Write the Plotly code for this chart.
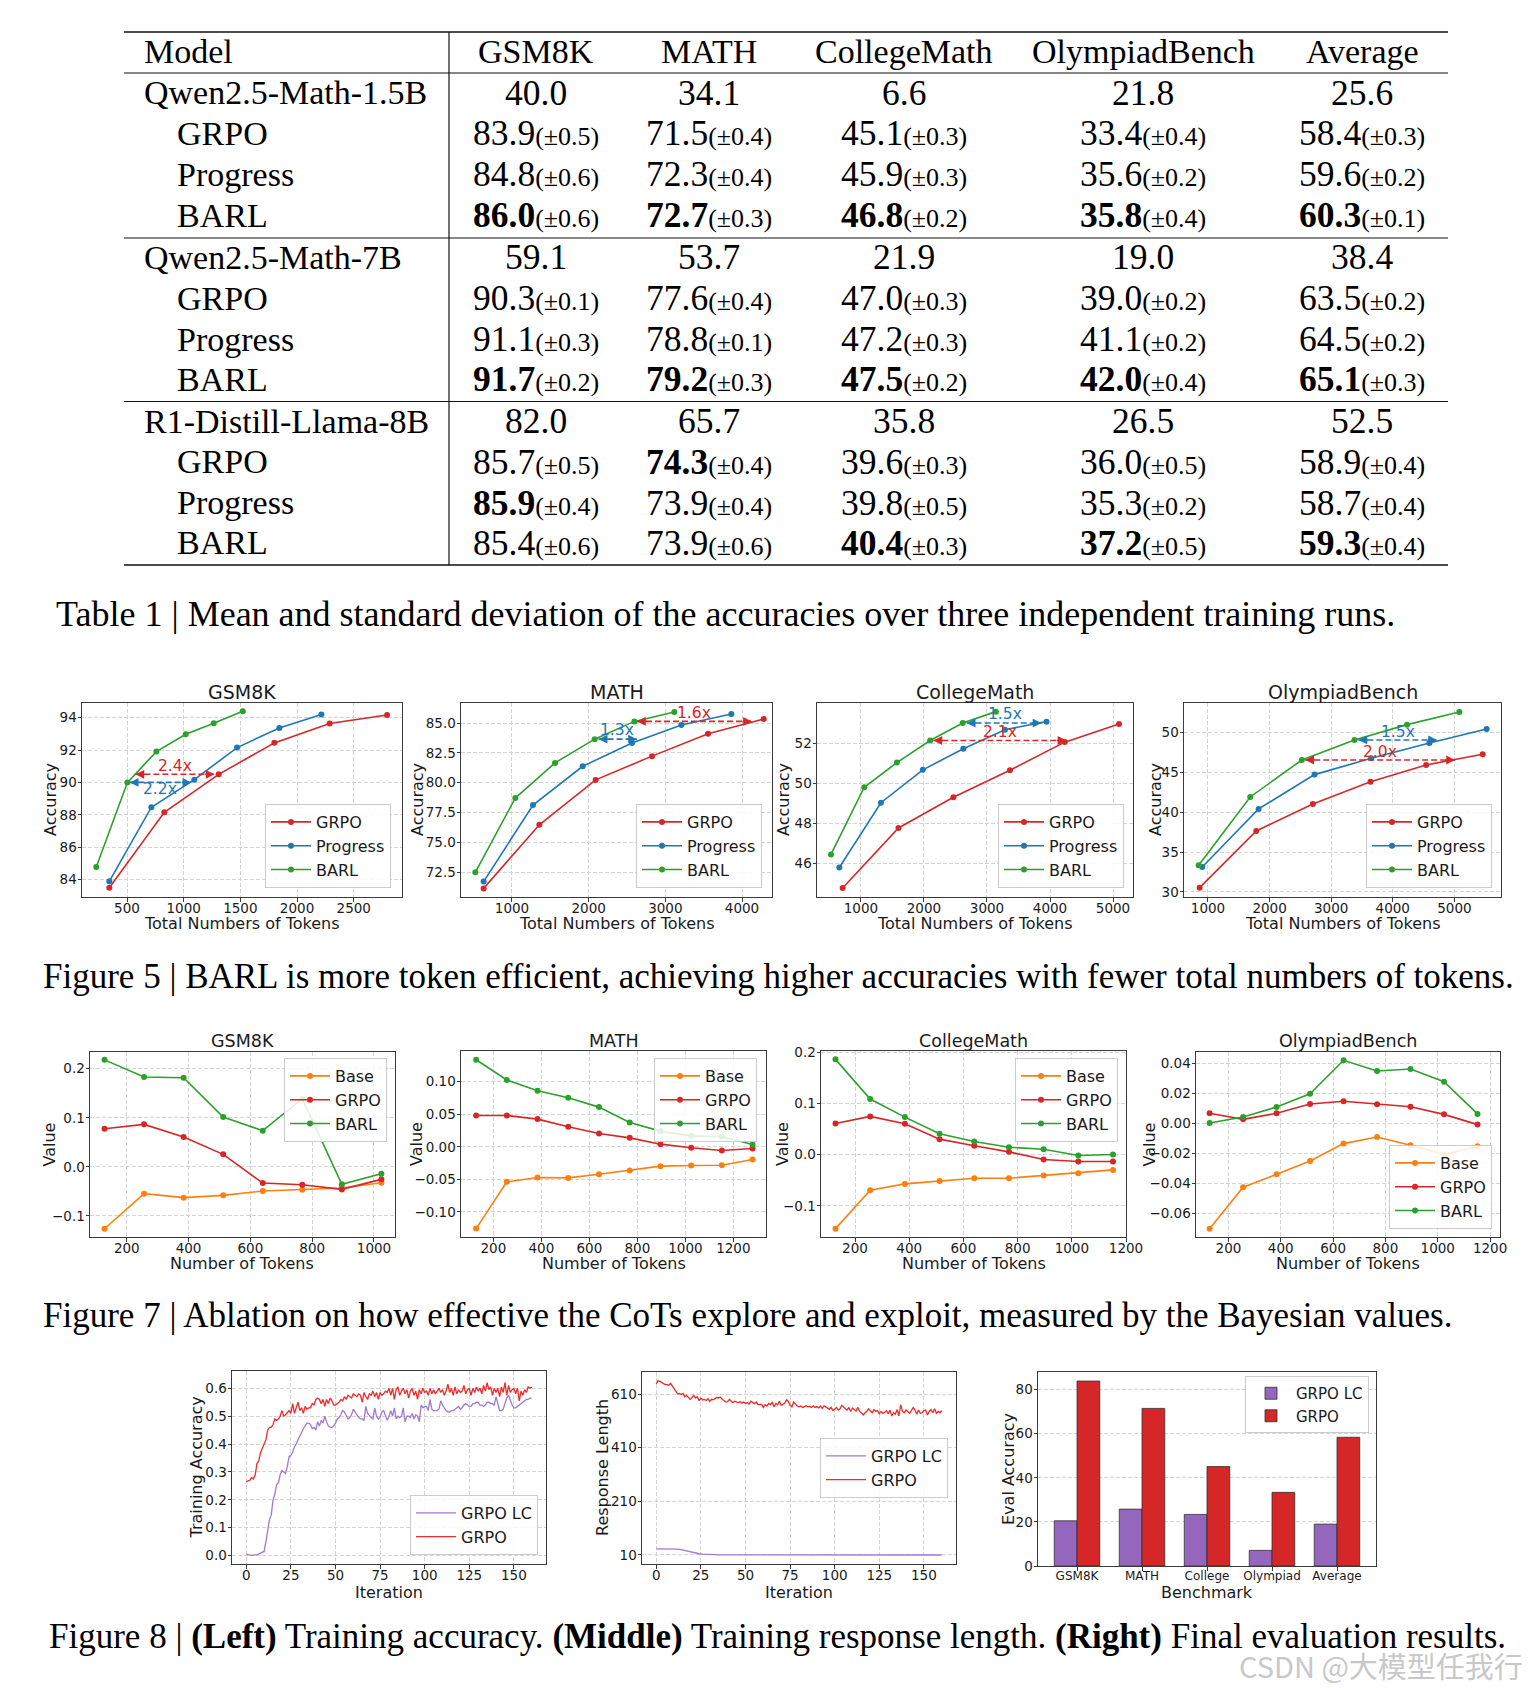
import plotly.graph_objects as go

W, H = 1533, 1688

# ===================== DATA =====================
# ---- Table 1 ----
benchmarks = ["GSM8K", "MATH", "CollegeMath", "OlympiadBench", "Average"]
base_models = ["Qwen2.5-Math-1.5B", "Qwen2.5-Math-7B", "R1-Distill-Llama-8B"]
methods = ["GRPO", "Progress", "BARL"]
base_scores = [
    [40.0, 34.1, 6.6, 21.8, 25.6],
    [59.1, 53.7, 21.9, 19.0, 38.4],
    [82.0, 65.7, 35.8, 26.5, 52.5],
]
qwen15_mean = [[83.9, 71.5, 45.1, 33.4, 58.4], [84.8, 72.3, 45.9, 35.6, 59.6], [86.0, 72.7, 46.8, 35.8, 60.3]]
qwen15_std = [[0.5, 0.4, 0.3, 0.4, 0.3], [0.6, 0.4, 0.3, 0.2, 0.2], [0.6, 0.3, 0.2, 0.4, 0.1]]
qwen7_mean = [[90.3, 77.6, 47.0, 39.0, 63.5], [91.1, 78.8, 47.2, 41.1, 64.5], [91.7, 79.2, 47.5, 42.0, 65.1]]
qwen7_std = [[0.1, 0.4, 0.3, 0.2, 0.2], [0.3, 0.1, 0.3, 0.2, 0.2], [0.2, 0.3, 0.2, 0.4, 0.3]]
llama8_mean = [[85.7, 74.3, 39.6, 36.0, 58.9], [85.9, 73.9, 39.8, 35.3, 58.7], [85.4, 73.9, 40.4, 37.2, 59.3]]
llama8_std = [[0.5, 0.4, 0.3, 0.5, 0.4], [0.4, 0.4, 0.5, 0.2, 0.4], [0.6, 0.6, 0.3, 0.5, 0.4]]

# ---- Figure 5: accuracy vs total tokens ----
f5_titles = ["GSM8K", "MATH", "CollegeMath", "OlympiadBench"]
gsm_grpo_x = [344, 829, 1309, 1800, 2288, 2794]
gsm_grpo_y = [83.5, 88.16, 90.5, 92.44, 93.63, 94.16]
gsm_prog_x = [344, 715, 1094, 1471, 1844, 2215]
gsm_prog_y = [83.9, 88.47, 90.17, 92.15, 93.36, 94.19]
gsm_barl_x = [229, 503, 759, 1018, 1265, 1521]
gsm_barl_y = [84.78, 89.99, 91.9, 92.97, 93.65, 94.39]

math_grpo_x = [630, 1357, 2091, 2826, 3557, 4283]
math_grpo_y = [71.15, 76.48, 80.24, 82.23, 84.1, 85.34]
math_prog_x = [630, 1274, 1922, 2565, 3209, 3861]
math_prog_y = [71.72, 78.13, 81.38, 83.32, 84.83, 85.76]
math_barl_x = [522, 1043, 1561, 2078, 2596, 3117]
math_barl_y = [72.5, 78.72, 81.66, 83.65, 85.14, 85.92]

col_grpo_x = [710, 1596, 2467, 3364, 4235, 5095]
col_grpo_y = [44.78, 47.77, 49.3, 50.65, 52.05, 52.95]
col_prog_x = [657, 1317, 1982, 2625, 3285, 3945]
col_prog_y = [45.8, 49.03, 50.67, 51.72, 52.67, 53.07]
col_barl_x = [525, 1053, 1570, 2098, 2615, 3142]
col_barl_y = [46.45, 49.8, 51.03, 52.13, 53.0, 53.57]

oly_grpo_x = [865, 1784, 2703, 3638, 4541, 5459]
oly_grpo_y = [30.54, 37.64, 41.02, 43.82, 45.91, 47.24]
oly_prog_x = [908, 1822, 2730, 3649, 4595, 5524]
oly_prog_y = [33.13, 40.4, 44.7, 46.74, 48.66, 50.42]
oly_barl_x = [849, 1686, 2524, 3378, 4232, 5081]
oly_barl_y = [33.34, 41.9, 46.53, 49.04, 50.96, 52.55]

# efficiency arrows: (panel, x_start, x_end, y, method-colour key, label, label_x, label_y)
f5_arrows = [
    (0, 574, 1273, 90.5, "GRPO", "2.4x", 926, 90.99),
    (0, 524, 1068, 90.0, "Progress", "2.2x", 794, 89.6),
    (1, 2630, 4130, 85.14, "GRPO", "1.6x", 3370, 85.84),
    (1, 2130, 2630, 83.65, "Progress", "1.3x", 2370, 84.38),
    (2, 2678, 3865, 53.0, "Progress", "1.5x", 3285, 53.45),
    (2, 2150, 4261, 52.13, "GRPO", "2.1x", 3206, 52.53),
    (3, 3443, 4719, 49.04, "Progress", "1.5x", 4081, 50.0),
    (3, 2578, 5011, 46.53, "GRPO", "2.0x", 3800, 47.58),
]

# ---- Figure 7: Bayesian values vs number of tokens ----
f7_titles = ["GSM8K", "MATH", "CollegeMath", "OlympiadBench"]
gsm_tok = [128, 256, 384, 512, 640, 768, 896, 1024]
gsm_base = [-0.126, -0.0546, -0.0627, -0.058, -0.0492, -0.0464, -0.043, -0.0322]
gsm_grpo = [0.0778, 0.0866, 0.0608, 0.0255, -0.0329, -0.0363, -0.0458, -0.0254]
gsm_barl = [0.218, 0.183, 0.1817, 0.1016, 0.0737, 0.1389, -0.0356, -0.0139]

math_tok = [128, 256, 384, 512, 640, 768, 896, 1024, 1152, 1280]
math_base = [-0.1256, -0.0538, -0.0472, -0.0477, -0.042, -0.0364, -0.0297, -0.0287, -0.0282, -0.0195]
math_grpo = [0.0482, 0.0482, 0.0426, 0.0308, 0.0205, 0.0138, 0.0041, -0.0015, -0.0056, -0.0026]
math_barl = [0.1338, 0.1026, 0.0862, 0.0754, 0.061, 0.0374, 0.0241, 0.0169, 0.0159, 0.0036]

col_tok = [128, 256, 384, 512, 640, 768, 896, 1024, 1152]
col_base = [-0.1444, -0.0694, -0.057, -0.0511, -0.0459, -0.0459, -0.0407, -0.0361, -0.0296]
col_grpo = [0.0611, 0.0748, 0.0604, 0.0304, 0.0174, 0.0056, -0.0094, -0.0133, -0.0133]
col_barl = [0.1863, 0.1087, 0.0735, 0.0408, 0.0258, 0.0147, 0.0108, -0.0016, 0.0004]

oly_tok = [128, 256, 384, 512, 640, 768, 896, 1024, 1152]
oly_base = [-0.07, -0.0425, -0.0339, -0.025, -0.0135, -0.0091, -0.0146, -0.0208, -0.0153]
oly_grpo = [0.0066, 0.0026, 0.0066, 0.0128, 0.0146, 0.0126, 0.011, 0.0059, -0.0009]
oly_barl = [0.0002, 0.0042, 0.0108, 0.0196, 0.0418, 0.0347, 0.036, 0.0276, 0.0062]

# ---- Figure 8 ----
iterations = list(range(161))
grpo_train_acc = [
    0.265, 0.268, 0.27, 0.28, 0.275, 0.29, 0.33, 0.34, 0.37, 0.385,
    0.40, 0.415, 0.45, 0.46, 0.46, 0.47, 0.49, 0.485, 0.49, 0.50,
    0.52, 0.50, 0.505, 0.515, 0.52, 0.51, 0.545, 0.51, 0.53, 0.55,
    0.52, 0.53, 0.51, 0.535, 0.525, 0.53, 0.53, 0.545, 0.54, 0.56,
    0.565, 0.56, 0.545, 0.56, 0.535, 0.56, 0.545, 0.565, 0.555, 0.54,
    0.54, 0.545, 0.55, 0.56, 0.555, 0.57, 0.56, 0.575, 0.57, 0.565,
    0.58, 0.575, 0.57, 0.58, 0.575, 0.55, 0.585, 0.57, 0.56, 0.58,
    0.575, 0.59, 0.57, 0.585, 0.56, 0.585, 0.575, 0.58, 0.59, 0.585,
    0.60, 0.575, 0.6, 0.56, 0.595, 0.605, 0.575, 0.59, 0.6, 0.58,
    0.595, 0.565, 0.59, 0.6, 0.575, 0.59, 0.56, 0.595, 0.58, 0.6,
    0.585, 0.59, 0.575, 0.6, 0.58, 0.595, 0.58, 0.59, 0.6, 0.585,
    0.595, 0.575, 0.59, 0.615, 0.585, 0.6, 0.575, 0.605, 0.58, 0.595,
    0.585, 0.59, 0.61, 0.58, 0.595, 0.6, 0.575, 0.6, 0.585, 0.605,
    0.59, 0.6, 0.58, 0.61, 0.59, 0.62, 0.595, 0.605, 0.575, 0.6,
    0.585, 0.6, 0.57, 0.605, 0.585, 0.62, 0.575, 0.61, 0.585, 0.595,
    0.6, 0.58, 0.6, 0.555, 0.59, 0.575, 0.595, 0.585, 0.605, 0.6,
    0.605,
]
grpo_lc_train_acc = [
    0.005, 0.003, 0.002, 0.002, 0.002, 0.003, 0.003, 0.006, 0.01, 0.012,
    0.015, 0.05, 0.09, 0.13, 0.145, 0.2, 0.22, 0.255, 0.26, 0.29,
    0.305, 0.3, 0.295, 0.32, 0.355, 0.36, 0.37, 0.39, 0.40, 0.415,
    0.43, 0.44, 0.455, 0.465, 0.475, 0.475, 0.47, 0.455, 0.46, 0.45,
    0.48, 0.465, 0.485, 0.475, 0.5, 0.48, 0.465, 0.46, 0.46, 0.465,
    0.475, 0.49, 0.495, 0.505, 0.52, 0.515, 0.505, 0.49, 0.495, 0.505,
    0.525, 0.515, 0.505, 0.495, 0.49, 0.49, 0.485, 0.535, 0.51, 0.5,
    0.495, 0.49, 0.53, 0.5, 0.49, 0.495, 0.515, 0.52, 0.5, 0.485,
    0.5, 0.52, 0.5, 0.53, 0.49, 0.5, 0.495, 0.5, 0.53, 0.48,
    0.5, 0.5, 0.495, 0.51, 0.49, 0.505, 0.5, 0.48, 0.54, 0.53,
    0.535, 0.535, 0.52, 0.56, 0.525, 0.52, 0.52, 0.52, 0.525, 0.555,
    0.54, 0.53, 0.52, 0.515, 0.515, 0.52, 0.52, 0.525, 0.53, 0.535,
    0.525, 0.53, 0.54, 0.545, 0.54, 0.535, 0.535, 0.545, 0.545, 0.55,
    0.55, 0.54, 0.54, 0.535, 0.54, 0.55, 0.55, 0.545, 0.545, 0.54,
    0.57, 0.545, 0.52, 0.52, 0.525, 0.545, 0.565, 0.575, 0.555, 0.54,
    0.53, 0.53, 0.535, 0.54, 0.545, 0.55, 0.555, 0.56, 0.56, 0.565,
    0.565,
]
grpo_resp_len = [
    648, 660, 657, 652, 650, 645, 645, 643, 650, 640,
    625, 615, 610, 612, 608, 612, 600, 605, 598, 590,
    597, 605, 595, 600, 585, 595, 588, 590, 586, 592,
    582, 590, 588, 592, 597, 596, 598, 590, 585, 580,
    582, 590, 584, 578, 583, 580, 577, 582, 576, 580,
    575, 578, 572, 583, 579, 574, 580, 571, 570, 572,
    560, 570, 565, 575, 570, 580, 562, 575, 570, 583,
    568, 572, 575, 588, 582, 568, 562, 580, 572, 565,
    562, 565, 560, 562, 566, 562, 564, 560, 566, 560,
    563, 558, 565, 556, 566, 562, 558, 553, 560, 548,
    553, 560, 550, 555, 568, 560, 555, 550, 560, 545,
    558, 552, 547, 560, 545, 540, 532, 540, 545, 555,
    548, 540, 552, 545, 548, 537, 545, 538, 542, 548,
    537, 550, 528, 540, 535, 552, 528, 570, 545, 540,
    550, 545, 538, 548, 560, 550, 535, 550, 538, 540,
    548, 550, 532, 545, 552, 540, 555, 538, 545, 540,
    548,
]
grpo_lc_len_iter = [0, 2, 4, 6, 8, 10, 12, 14, 16, 18, 20, 22, 24, 26, 28, 30, 33, 36, 40, 50, 60, 80, 100, 120, 140, 160]
grpo_lc_resp_len = [33, 33, 33, 33, 33, 32.8, 32, 30, 26.5, 23, 19.5, 16.8, 14.6, 13, 12, 11.3, 10.7, 10.4, 10.2, 10, 10, 10, 10, 10, 10, 10]

eval_benchmarks = ["GSM8K", "MATH", "College", "Olympiad", "Average"]
eval_grpo_lc = [20.5, 25.8, 23.4, 7.1, 19.0]
eval_grpo = [83.9, 71.5, 45.1, 33.4, 58.4]

# ===================== STYLE / HELPERS =====================
FONT = "DejaVu Sans"
SERIF = "Liberation Serif"
INK = "#1a1a1a"
RED, BLUE, GREEN, ORANGE, PURPLE = "#d62728", "#1f77b4", "#2ca02c", "#ff7f0e", "#9467bd"
method_color = {"GRPO": RED, "Progress": BLUE, "BARL": GREEN, "Base": ORANGE}

# the page body adds an 8px margin; the figure is sized to fit inside the window
OFF = 8
FW, FH = W - OFF, H - OFF


def X(v):
    return (v - OFF) / FW


def Y(v):
    return 1 - (v - OFF) / FH


fig = go.Figure()
annotations, shapes = [], []
layout = dict(width=FW, height=FH, margin=dict(l=0, r=0, t=0, b=0, autoexpand=False),
              paper_bgcolor="white", plot_bgcolor="white", hovermode=False,
              barmode="group", bargap=0.3, bargroupgap=0)


def sid(i):
    return "" if i == 1 else str(i)


def ptext(text, x, y, size, angle=0, color=INK, family=FONT, xanchor="center"):
    annotations.append(dict(text=text, x=X(x), y=Y(y), xref="paper", yref="paper",
                            showarrow=False, xanchor=xanchor, yanchor="middle", textangle=angle,
                            font=dict(family=family, size=size, color=color)))


def add_axes(i, box, xr, yr, xtitle, ytitle, xticks, yticks, xtitle_y, ytitle_x,
             yfmt="", xfmt="d", xgrid=True, xcat=False, xfont=13.5):
    l, r, t, b = box
    s = sid(i)
    common = dict(showline=True, mirror=True, linecolor="#3a3a3a", linewidth=1,
                  ticks="outside", ticklen=3.5, tickwidth=1, tickcolor="#3a3a3a", automargin=False,
                  gridcolor="#d4d4d4", griddash="4px,2px", gridwidth=1, zeroline=False)
    xa = dict(common, domain=[X(l), X(r)], anchor="y" + s, range=xr, showgrid=xgrid,
              ticklabelstandoff=-5,
              tickfont=dict(family=FONT, size=xfont, color=INK))
    if xcat:
        xa["type"] = "category"
    else:
        xa["tickvals"] = xticks
        xa["tickformat"] = xfmt
    ya = dict(common, domain=[Y(b), Y(t)], anchor="x" + s, range=yr, showgrid=True,
              tickvals=yticks, tickformat=yfmt, ticklabelstandoff=-2,
              tickfont=dict(family=FONT, size=13.5, color=INK))
    layout["xaxis" + s] = xa
    layout["yaxis" + s] = ya
    ptext(xtitle, (l + r) / 2, xtitle_y, 16)
    ptext(ytitle, ytitle_x, (t + b) / 2, 16, angle=-90)


def add_legend(i, xpos, ypos, xanchor, yanchor, size=16):
    name = "legend" + sid(i)
    layout[name] = dict(x=X(xpos), y=Y(ypos), xanchor=xanchor, yanchor=yanchor,
                        bgcolor="rgba(255,255,255,0.85)", bordercolor="#cccccc", borderwidth=1,
                        font=dict(family=FONT, size=size, color=INK), tracegroupgap=0,
                        itemwidth=40, traceorder="grouped")
    return name


def add_line(i, x, y, name, color, legend, markers=True, width=1.6, showlegend=True):
    s = sid(i)
    fig.add_trace(go.Scatter(
        x=x, y=y, name=name, mode="lines+markers" if markers else "lines",
        line=dict(color=color, width=width), marker=dict(size=6, color=color),
        xaxis="x" + s, yaxis="y" + s, legend=legend, legendgroup=legend + name,
        showlegend=showlegend))


def title(text, box, ypos, size):
    l, r, t, b = box
    ptext(text, (l + r) / 2, ypos, size)


# ===================== TABLE 1 =====================
t_left, t_right, t_vline = 124, 1448, 449
for yy, lw in [(32, 1.6), (73, 1.2), (238, 1.2), (401.5, 1.2), (565, 1.6)]:
    shapes.append(dict(type="line", xref="paper", yref="paper", x0=X(t_left), x1=X(t_right),
                       y0=Y(yy), y1=Y(yy), line=dict(color="#111111", width=lw)))
shapes.append(dict(type="line", xref="paper", yref="paper", x0=X(t_vline), x1=X(t_vline),
                   y0=Y(32), y1=Y(565), line=dict(color="#111111", width=1.2)))

col_x = [536, 709, 904, 1143, 1362]
header_y = 51
row_y = [92.6, 133.5, 174.4, 215.3, 257.3, 298.2, 339.1, 379.0, 421.0, 461.9, 502.8, 542.6]
TFS, NFS, SFS = 34, 35.5, 26


def ttext(text, x, y, anchor="center", size=TFS):
    ptext(text, x, y, size, color="black", family=SERIF, xanchor=anchor)


ttext("Model", 142, header_y, "left")
for b, cx in zip(benchmarks, col_x):
    ttext(b, cx, header_y)

groups = [(qwen15_mean, qwen15_std), (qwen7_mean, qwen7_std), (llama8_mean, llama8_std)]
for g, (model, base, (means, stds)) in enumerate(zip(base_models, base_scores, groups)):
    y0 = row_y[4 * g]
    ttext(model, 142, y0, "left")
    for v, cx in zip(base, col_x):
        ttext(f"{v:.1f}", cx, y0, size=NFS)
    for m, meth in enumerate(methods):
        yy = row_y[4 * g + 1 + m]
        ttext(meth, 175, yy, "left")
        for c, cx in enumerate(col_x):
            val = means[m][c]
            best = max(means[k][c] for k in range(3))
            core = f"{val:.1f}"
            if val == best:
                core = f"<b>{core}</b>"
            txt = core + f"<span style='font-size:{SFS}px'>(±{stds[m][c]:.1f})</span>"
            ttext(txt, cx, yy, size=NFS)


def caption(text, x, y, size=35):
    ptext(text, x, y, size, color="black", family=SERIF, xanchor="left")


caption("Table 1 | Mean and standard deviation of the accuracies over three independent training runs.",
        54, 614, size=36)

# ===================== FIGURE 5 =====================
f5_boxes = [(82, 402, 703, 897), (461, 772, 703, 897), (817, 1133, 703, 897), (1184, 1501, 703, 897)]
f5_xr = [[103, 2926], [335, 4391], [303, 5317], [611, 5757]]
f5_yr = [[82.93, 94.9], [70.43, 86.68], [44.33, 54.0], [29.37, 53.67]]
f5_xt = [[500, 1000, 1500, 2000, 2500], [1000, 2000, 3000, 4000], [1000, 2000, 3000, 4000, 5000],
         [1000, 2000, 3000, 4000, 5000]]
f5_yt = [[84, 86, 88, 90, 92, 94], [72.5, 75, 77.5, 80, 82.5, 85], [46, 48, 50, 52], [30, 35, 40, 45, 50]]
f5_yf = ["d", ".1f", "d", "d"]
f5_ytitle_x = [50, 417, 783, 1155]
f5_data = [
    [(gsm_grpo_x, gsm_grpo_y), (gsm_prog_x, gsm_prog_y), (gsm_barl_x, gsm_barl_y)],
    [(math_grpo_x, math_grpo_y), (math_prog_x, math_prog_y), (math_barl_x, math_barl_y)],
    [(col_grpo_x, col_grpo_y), (col_prog_x, col_prog_y), (col_barl_x, col_barl_y)],
    [(oly_grpo_x, oly_grpo_y), (oly_prog_x, oly_prog_y), (oly_barl_x, oly_barl_y)],
]
f5_leg = [(391, 888), (762, 888), (1124, 888), (1492, 888)]

for p in range(4):
    i = p + 1
    add_axes(i, f5_boxes[p], f5_xr[p], f5_yr[p], "Total Numbers of Tokens", "Accuracy",
             f5_xt[p], f5_yt[p], 924, f5_ytitle_x[p], yfmt=f5_yf[p])
    leg = add_legend(i, f5_leg[p][0], f5_leg[p][1], "right", "bottom")
    for meth, (xs, ys) in zip(methods, f5_data[p]):
        add_line(i, xs, ys, meth, method_color[meth], leg)
    title(f5_titles[p], f5_boxes[p], 692, 19)

for (p, xa, xb, yv, key, lab, lx, ly) in f5_arrows:
    i = p + 1
    s = sid(i)
    col = method_color[key]
    fig.add_trace(go.Scatter(x=[xa, xb], y=[yv, yv], mode="lines",
                             line=dict(color=col, width=1.6, dash="6px,3px"),
                             xaxis="x" + s, yaxis="y" + s, showlegend=False))
    for xe, off in [(xa, 11), (xb, -11)]:
        annotations.append(dict(x=xe, y=yv, xref="x" + s, yref="y" + s, ax=off, ay=0, text="",
                                showarrow=True, arrowhead=2, arrowsize=1.1, arrowwidth=1.6,
                                arrowcolor=col, standoff=0, startstandoff=0))
    annotations.append(dict(x=lx, y=ly, xref="x" + s, yref="y" + s, text=lab, showarrow=False,
                            xanchor="center", yanchor="middle",
                            font=dict(family=FONT, size=15.5, color=col)))

caption("Figure 5 | BARL is more token efficient, achieving higher accuracies with fewer total numbers of tokens.",
        41, 976.5)

# ===================== FIGURE 7 =====================
f7_boxes = [(90, 395, 1052, 1237), (461, 766, 1051, 1237), (821, 1126, 1051, 1237), (1196, 1500, 1052, 1237)]
f7_xr = [[81, 1068], [65, 1336], [74.5, 1200], [76, 1238]]
f7_yr = [[-0.1428, 0.234], [-0.1385, 0.1472], [-0.1607, 0.2026], [-0.0755, 0.0473]]
f7_xt = [[200, 400, 600, 800, 1000], [200, 400, 600, 800, 1000, 1200],
         [200, 400, 600, 800, 1000, 1200], [200, 400, 600, 800, 1000, 1200]]
f7_yt = [[-0.1, 0.0, 0.1, 0.2], [-0.1, -0.05, 0.0, 0.05, 0.1], [-0.1, 0.0, 0.1, 0.2],
         [-0.06, -0.04, -0.02, 0.0, 0.02, 0.04]]
f7_yf = [".1f", ".2f", ".1f", ".2f"]
f7_ytitle_x = [49, 416, 782, 1149]
f7_data = [
    (gsm_tok, [gsm_base, gsm_grpo, gsm_barl]),
    (math_tok, [math_base, math_grpo, math_barl]),
    (col_tok, [col_base, col_grpo, col_barl]),
    (oly_tok, [oly_base, oly_grpo, oly_barl]),
]
f7_names = ["Base", "GRPO", "BARL"]
f7_leg = [(387, 1058, "top"), (757, 1058, "top"), (1118, 1058, "top"), (1492, 1229, "bottom")]

for p in range(4):
    i = p + 5
    add_axes(i, f7_boxes[p], f7_xr[p], f7_yr[p], "Number of Tokens", "Value",
             f7_xt[p], f7_yt[p], 1263, f7_ytitle_x[p], yfmt=f7_yf[p])
    lx, ly, ya = f7_leg[p]
    leg = add_legend(i, lx, ly, "right", ya)
    toks, series = f7_data[p]
    for nm, vals in zip(f7_names, series):
        add_line(i, toks, vals, nm, method_color[nm], leg)
    title(f7_titles[p], f7_boxes[p], 1041, 17.5)

caption("Figure 7 | Ablation on how effective the CoTs explore and exploit, measured by the Bayesian values.",
        41, 1315.6)

# ===================== FIGURE 8 =====================
LC_COL = "#a07ad0"
G_COL = "#ee2b2b"
# left: training accuracy
box_l = (232, 546, 1371, 1564)
add_axes(9, box_l, [-8, 168], [-0.03, 0.662], "Iteration", "Training Accuracy",
         [0, 25, 50, 75, 100, 125, 150], [0.0, 0.1, 0.2, 0.3, 0.4, 0.5, 0.6], 1592, 196, yfmt=".1f")
leg = add_legend(9, 538, 1555, "right", "bottom")
add_line(9, iterations, grpo_lc_train_acc, "GRPO LC", LC_COL, leg, markers=False, width=1.3)
add_line(9, iterations, grpo_train_acc, "GRPO", G_COL, leg, markers=False, width=1.3)

# middle: response length
box_m = (642, 956, 1372, 1564)
add_axes(10, box_m, [-8, 168], [-23.6, 692], "Iteration", "Response Length",
         [0, 25, 50, 75, 100, 125, 150], [10, 210, 410, 610], 1592, 602, yfmt="d")
leg = add_legend(10, 948, 1468, "right", "middle")
add_line(10, grpo_lc_len_iter, grpo_lc_resp_len, "GRPO LC", LC_COL, leg, markers=False, width=1.3)
add_line(10, iterations, grpo_resp_len, "GRPO", G_COL, leg, markers=False, width=1.3)

# right: eval accuracy bars
box_r = (1038, 1376, 1372, 1566)
add_axes(11, box_r, [-0.6, 4.6], [0, 88], "Benchmark", "Eval Accuracy",
         None, [0, 20, 40, 60, 80], 1592, 1008, yfmt="d", xgrid=False, xcat=True, xfont=12)
leg = add_legend(11, 1369, 1376, "right", "top", size=15)
for nm, vals, colr in [("GRPO LC", eval_grpo_lc, PURPLE), ("GRPO", eval_grpo, RED)]:
    fig.add_trace(go.Bar(x=eval_benchmarks, y=vals, name=nm, xaxis="x11", yaxis="y11",
                         marker=dict(color=colr, line=dict(color="rgba(40,40,40,0.75)", width=1)),
                         legend=leg, legendgroup=leg + nm))

caption("Figure 8 | <b>(Left)</b> Training accuracy. <b>(Middle)</b> Training response length. "
        "<b>(Right)</b> Final evaluation results.", 47, 1636.4)

# watermark
ptext("CSDN @大模型任我行", 1237, 1665, 29, color="#c8c8c8", family="Noto Sans CJK SC", xanchor="left")

layout["annotations"] = annotations
layout["shapes"] = shapes
fig.update_layout(**layout)
fig.write_html("out.html")
